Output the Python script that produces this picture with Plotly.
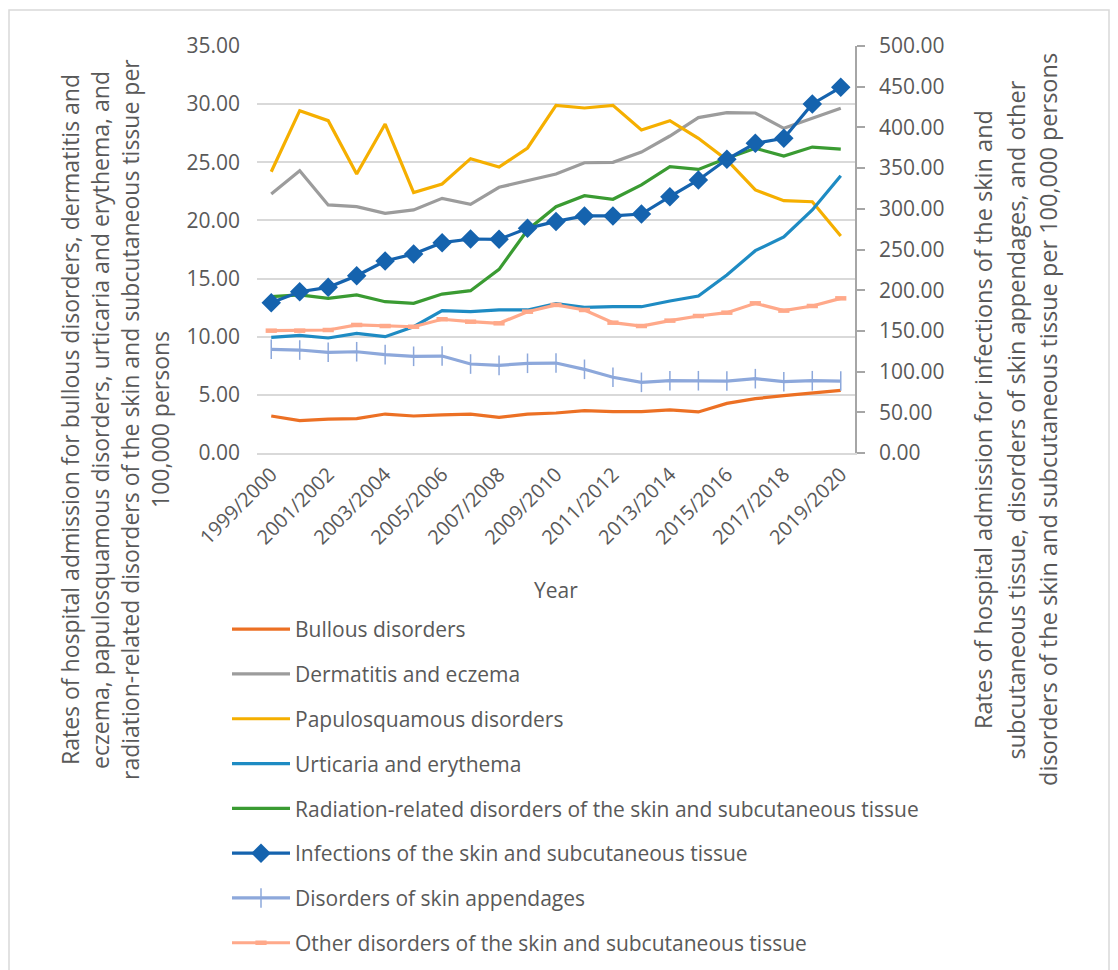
import plotly.graph_objects as go

# Financial-year labels on the category axis
years = [
    "1999/2000", "2000/2001", "2001/2002", "2002/2003", "2003/2004",
    "2004/2005", "2005/2006", "2006/2007", "2007/2008", "2008/2009",
    "2009/2010", "2010/2011", "2011/2012", "2012/2013", "2013/2014",
    "2014/2015", "2015/2016", "2016/2017", "2017/2018", "2018/2019",
    "2019/2020",
]
year_ticks = ["1999/2000", "2001/2002", "2003/2004", "2005/2006", "2007/2008",
              "2009/2010", "2011/2012", "2013/2014", "2015/2016", "2017/2018",
              "2019/2020"]

# Primary axis series (rate per 100,000 persons)
bullous = [3.18, 2.78, 2.92, 2.95, 3.35, 3.18, 3.27, 3.35, 3.07, 3.35, 3.44,
           3.64, 3.55, 3.55, 3.70, 3.53, 4.27, 4.67, 4.93, 5.13, 5.39]
dermatitis = [22.27, 24.28, 21.33, 21.18, 20.61, 20.90, 21.90, 21.38, 22.85,
              23.42, 23.99, 24.96, 25.00, 25.88, 27.26, 28.84, 29.27, 29.24,
              27.92, 28.78, 29.64]
papulosquamous = [24.19, 29.44, 28.58, 23.99, 28.29, 22.39, 23.13, 25.31,
                  24.59, 26.23, 29.90, 29.67, 29.90, 27.78, 28.58, 27.06,
                  25.20, 22.62, 21.70, 21.61, 18.66]
urticaria = [9.95, 10.12, 9.89, 10.29, 10.00, 10.86, 12.24, 12.15, 12.30,
             12.30, 12.84, 12.53, 12.58, 12.58, 13.07, 13.50, 15.31, 17.40,
             18.58, 20.90, 23.85]
radiation = [13.44, 13.59, 13.30, 13.59, 13.01, 12.87, 13.67, 13.96, 15.79,
             19.18, 21.18, 22.13, 21.82, 23.05, 24.62, 24.39, 25.34, 26.20,
             25.54, 26.31, 26.14]

# Secondary axis series (rate per 100,000 persons)
infections = [184.7, 198.1, 203.5, 217.8, 235.9, 244.5, 258.4, 262.9, 262.5,
              276.0, 284.5, 291.2, 291.2, 293.6, 314.9, 335.4, 360.8, 380.4,
              386.6, 428.8, 449.2]
appendages = [127.4, 126.5, 123.7, 124.4, 120.8, 118.8, 119.1, 109.3, 107.7,
              110.2, 110.5, 102.8, 93.0, 86.8, 88.8, 88.8, 88.4, 91.3, 87.6,
              88.8, 88.4]
other = [150.3, 150.3, 151.1, 157.3, 156.0, 155.1, 164.3, 161.3, 159.3, 173.6,
         181.9, 175.7, 160.1, 156.0, 162.6, 168.3, 172.4, 183.9, 174.9, 180.6,
         190.0]

FONT = "Open Sans"
TXT = "#595959"

# figure geometry (pixels)
W, H = 1118, 970
L, R, T, B = 257, 855, 46, 453


def px(x):
    return (x - L) / (R - L)


def py(y):
    return (B - y) / (B - T)


fig = go.Figure()

primary = [
    ("Bullous disorders", bullous, "#EC7024"),
    ("Dermatitis and eczema", dermatitis, "#9C9C9C"),
    ("Papulosquamous disorders", papulosquamous, "#F5AF00"),
    ("Urticaria and erythema", urticaria, "#1E8BC3"),
    ("Radiation-related disorders of the skin and subcutaneous tissue", radiation, "#3A9B32"),
]
for i, (name, vals, col) in enumerate(primary):
    fig.add_trace(go.Scatter(
        x=years, y=vals, name=name, mode="lines",
        line=dict(color=col, width=3.2), legendgroup=str(i),
    ))

fig.add_trace(go.Scatter(
    x=years, y=infections, name="Infections of the skin and subcutaneous tissue",
    mode="lines+markers", yaxis="y2", legendgroup="5",
    line=dict(color="#1563AE", width=3.2),
    marker=dict(symbol="diamond", size=15, color="#1563AE"),
))
fig.add_trace(go.Scatter(
    x=years, y=appendages, name="Disorders of skin appendages",
    mode="lines+markers", yaxis="y2", legendgroup="6",
    line=dict(color="#8DA8DB", width=3.2),
    marker=dict(symbol="line-ns", size=14, line=dict(color="#8DA8DB", width=1.5)),
))
fig.add_trace(go.Scatter(
    x=years, y=other, name="Other disorders of the skin and subcutaneous tissue",
    mode="lines+markers", yaxis="y2", legendgroup="7",
    line=dict(color="#FFA98A", width=3.2),
    marker=dict(symbol="line-ew", size=8, line=dict(color="#FFA98A", width=4.5)),
))

annotations = []
left_title = [
    "Rates of hospital admission for bullous disorders, dermatitis and",
    "eczema, papulosquamous disorders, urticaria and erythema, and",
    "radiation-related disorders of the skin and subcutaneous tissue per",
    "100,000 persons",
]
for k, line in enumerate(left_title):
    annotations.append(dict(
        text=line, x=px(70 + 30 * k), y=py(420), xref="paper", yref="paper",
        textangle=-90, showarrow=False, xanchor="center", yanchor="middle",
        font=dict(family=FONT, size=23, color=TXT),
    ))
right_title = [
    "Rates of hospital admission for infections of the skin and",
    "subcutaneous tissue, disorders of skin appendages, and other",
    "disorders of the skin and subcutaneous tissue per 100,000 persons",
]
for k, line in enumerate(right_title):
    annotations.append(dict(
        text=line, x=px(983 + 32.5 * k), y=py(420), xref="paper", yref="paper",
        textangle=-90, showarrow=False, xanchor="center", yanchor="middle",
        font=dict(family=FONT, size=23.5, color=TXT),
    ))
annotations.append(dict(
    text="Year", x=px(556), y=py(590), xref="paper", yref="paper",
    showarrow=False, xanchor="center", yanchor="middle",
    font=dict(family=FONT, size=21, color=TXT),
))

# light chart-area border
shapes = [dict(
    type="rect", xref="paper", yref="paper",
    x0=px(9), x1=px(1109), y0=py(1000), y1=py(10),
    line=dict(color="#D9D9D9", width=1.5), fillcolor="rgba(0,0,0,0)", layer="below",
)]

fig.update_layout(
    width=W, height=H,
    margin=dict(l=L, r=W - R, t=T, b=H - B, autoexpand=False),
    paper_bgcolor="white", plot_bgcolor="white",
    font=dict(family=FONT, size=20, color=TXT),
    showlegend=True,
    legend=dict(
        x=px(227), y=py(609), xanchor="left", yanchor="top",
        orientation="v", traceorder="grouped", tracegroupgap=14.5,
        font=dict(family=FONT, size=21, color=TXT),
        bgcolor="rgba(0,0,0,0)", itemwidth=58,
    ),
    xaxis=dict(
        type="category", range=[-0.5, 20.5], tickmode="array", tickvals=year_ticks,
        tickangle=-45, showgrid=False, showline=True, linecolor="#D9D9D9",
        linewidth=1.5, ticks="", tickfont=dict(family=FONT, size=20, color=TXT),
    ),
    yaxis=dict(
        range=[0, 35], dtick=5, tickformat=".2f", showgrid=True,
        gridcolor="#D9D9D9", gridwidth=1.5, zeroline=False, showline=False,
        ticks="", ticklabelstandoff=16, tickfont=dict(family=FONT, size=21, color=TXT),
    ),
    yaxis2=dict(
        range=[0, 500], dtick=50, tickformat=".2f", overlaying="y", side="right",
        showgrid=False, zeroline=False, showline=True, linecolor="#A6A6A6",
        linewidth=1.5, ticks="outside", ticklen=8, tickcolor="#A6A6A6",
        tickwidth=1.5, ticklabelstandoff=10,
        tickfont=dict(family=FONT, size=21, color=TXT),
    ),
    annotations=annotations,
    shapes=shapes,
)

fig.write_html("out.html")
